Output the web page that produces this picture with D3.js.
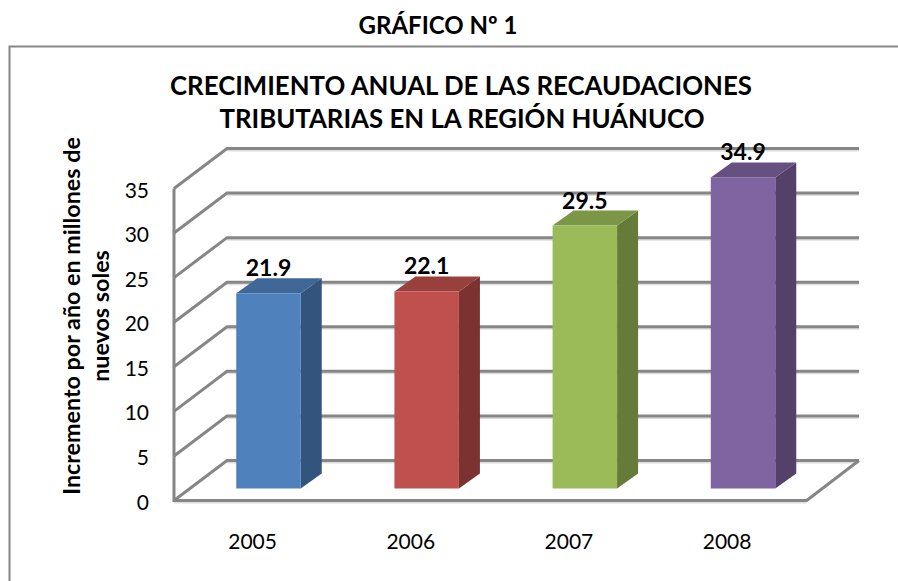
<!DOCTYPE html>
<html><head><meta charset="utf-8">
<script src="https://cdn.jsdelivr.net/npm/d3@7"></script>
<style>html,body{margin:0;background:#fff}svg{display:block}text{font-family:Lato,"Noto Sans",sans-serif;fill:#000}</style>
</head><body><script>
const categories=["2005","2006","2007","2008"];
const values=[21.9,22.1,29.5,34.9];
const yTicks=[0,5,10,15,20,25,30,35];
const frontColors=["#4f81bd","#c0504d","#9bbb59","#8064a2"];
const topColors=["#3f6797","#99403d","#7c9647","#665082"];
const sideColors=["#33547c","#7a3331","#667a3a","#544068"];
const width=898,height=581;
const svg=d3.select("body").append("svg").attr("width",width).attr("height",height);
const x=d3.scaleBand().domain(categories).range([173.5,806.2]).paddingInner(0).paddingOuter(0);
const y=d3.scaleLinear().domain([0,35]).range([500.5,188.5]);
const depthX=53,depthY=-40;
const grid="#868686",shadow="#dedede";
svg.append("path").attr("d","M9.5,581V46.5H898").attr("fill","none").attr("stroke",grid).attr("stroke-width",2);
svg.append("text").attr("x",438).attr("y",34).attr("text-anchor","middle").attr("font-size",24).attr("font-weight",700).text("GRÁFICO Nº 1");
svg.append("text").attr("x",461).attr("y",95).attr("text-anchor","middle").attr("font-size",25.8).attr("font-weight",700).text("CRECIMIENTO ANUAL DE LAS RECAUDACIONES");
svg.append("text").attr("x",462).attr("y",128).attr("text-anchor","middle").attr("font-size",25.8).attr("font-weight",700).text("TRIBUTARIAS EN LA REGIÓN HUÁNUCO");
const sh=svg.append("g").attr("fill","none").attr("stroke",shadow).attr("stroke-width",2).attr("transform","translate(0,2)");
const g=svg.append("g").attr("fill","none").attr("stroke",grid).attr("stroke-width",3);
yTicks.forEach(t=>{
  sh.append("path").attr("d",`M${174+depthX},${y(t)+depthY}L859,${y(t)+depthY}`);
  g.append("path").attr("d",`M174,${y(t)}L${174+depthX},${y(t)+depthY}L859,${y(t)+depthY}`);
});
sh.append("path").attr("d",`M174,${y(0)}H806.7`);
g.append("path").attr("d",`M174,${y(35)}V${y(0)}H806.7L859,${y(0)+depthY}`);
const barDepth=0.3,bw=64.5,bdx=21,bdy=-15;
categories.forEach((c,i)=>{
  const x0=x(c)+x.bandwidth()/2+depthX*barDepth-bw/2, x1=x0+bw;
  const base=y(0)+depthY*barDepth, h=y(0)-y(values[i]), top=base-h;
  svg.append("path").attr("fill",sideColors[i]).attr("d",`M${x1},${top}L${x1+bdx},${top+bdy}V${base+bdy}L${x1},${base}Z`);
  svg.append("path").attr("fill",topColors[i]).attr("d",`M${x0},${top}L${x0+bdx},${top+bdy}H${x1+bdx}L${x1},${top}Z`);
  svg.append("rect").attr("x",x0).attr("y",top).attr("width",bw).attr("height",h).attr("fill",frontColors[i]);
  svg.append("text").attr("x",x0+bw/2).attr("y",top-17).attr("text-anchor","middle").attr("font-size",23).attr("font-weight",700).text(values[i].toFixed(1));
  svg.append("text").attr("x",x(c)+x.bandwidth()/2).attr("y",549).attr("text-anchor","middle").attr("font-size",21).text(c);
});
yTicks.forEach(t=>{
  svg.append("text").attr("x",149).attr("y",y(t)+9).attr("text-anchor","end").attr("font-size",21).text(t);
});
const yl=svg.append("g").attr("transform","translate(80,316) rotate(-90)");
yl.append("text").attr("text-anchor","middle").attr("font-size",23.3).attr("font-weight",700).text("Incremento por año en millones de");
yl.append("text").attr("y",29).attr("text-anchor","middle").attr("font-size",23.3).attr("font-weight",700).text("nuevos soles");
</script></body></html>
